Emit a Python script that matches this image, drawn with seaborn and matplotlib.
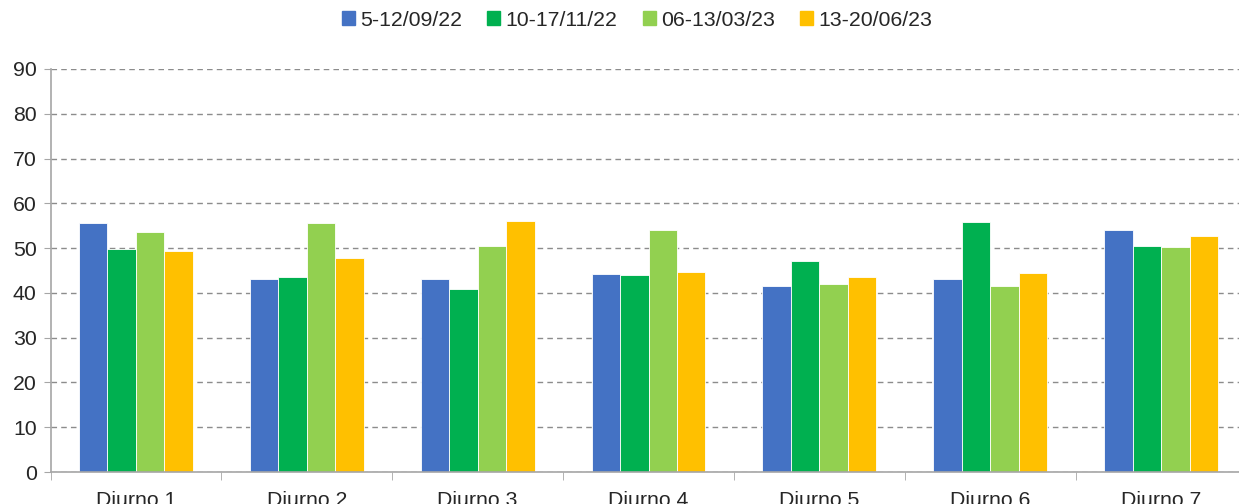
import matplotlib
matplotlib.use("Agg")
import matplotlib.pyplot as plt
import seaborn as sns
import pandas as pd
import numpy as np

categories = ["Diurno 1", "Diurno 2", "Diurno 3", "Diurno 4", "Diurno 5", "Diurno 6", "Diurno 7"]
periods = ["5-12/09/22", "10-17/11/22", "06-13/03/23", "13-20/06/23"]
sep22 = [55.6, 43.1, 43.2, 44.3, 41.6, 43.0, 54.1]
nov22 = [49.8, 43.5, 40.8, 44.0, 47.1, 55.8, 50.5]
mar23 = [53.7, 55.5, 50.4, 54.0, 41.9, 41.5, 50.2]
jun23 = [49.3, 47.7, 56.0, 44.6, 43.5, 44.4, 52.8]
colors = ["#4472C4", "#00B050", "#92D050", "#FFC000"]

rows = []
for period, vals in zip(periods, [sep22, nov22, mar23, jun23]):
    for cat, v in zip(categories, vals):
        rows.append({"cat": cat, "period": period, "value": v})
df = pd.DataFrame(rows)

sns.set_style("white")
plt.rcParams["font.family"] = ["Liberation Sans", "DejaVu Sans"]

fig = plt.figure(figsize=(12.39, 5.04), dpi=100)
ax = fig.add_axes([50.5 / 1239, 1 - 472 / 504, 1196 / 1239, 403 / 504])

sns.barplot(data=df, x="cat", y="value", hue="period", palette=colors,
            saturation=1, width=0.667, ax=ax, edgecolor="#ffffff",
            linewidth=0.6, errorbar=None, legend=False)

ax.set_xlim(-0.5, 6.5)
ax.set_ylim(0, 90)
ax.set_yticks(np.arange(0, 91, 10))
ax.set_xlabel("")
ax.set_ylabel("")
ax.yaxis.grid(True, color="#8c8c8c", linestyle=(0, (4, 3)), linewidth=1.0)
ax.set_axisbelow(True)

for s in ["top", "right"]:
    ax.spines[s].set_visible(False)
for s in ["left", "bottom"]:
    ax.spines[s].set_color("#a6a6a6")
    ax.spines[s].set_linewidth(1.2)

ax.tick_params(axis="y", length=5, color="#a6a6a6", labelsize=15.3, pad=5, left=True)
ax.tick_params(axis="x", which="major", length=0, labelsize=15.3, pad=14)
ax.set_xticks(np.arange(-0.5, 7.0, 1.0), minor=True)
ax.tick_params(axis="x", which="minor", length=6, color="#a6a6a6", bottom=True)

handles = [plt.Rectangle((0, 0), 1, 1, color=c) for c in colors]
fig.legend(handles, periods, loc="center", bbox_to_anchor=(637 / 1239, 1 - 20 / 504),
           ncol=4, frameon=False, fontsize=15.3, handlelength=0.6, handleheight=0.6,
           handletextpad=0.25, columnspacing=1.2)

fig.savefig("out.png", dpi=100)
